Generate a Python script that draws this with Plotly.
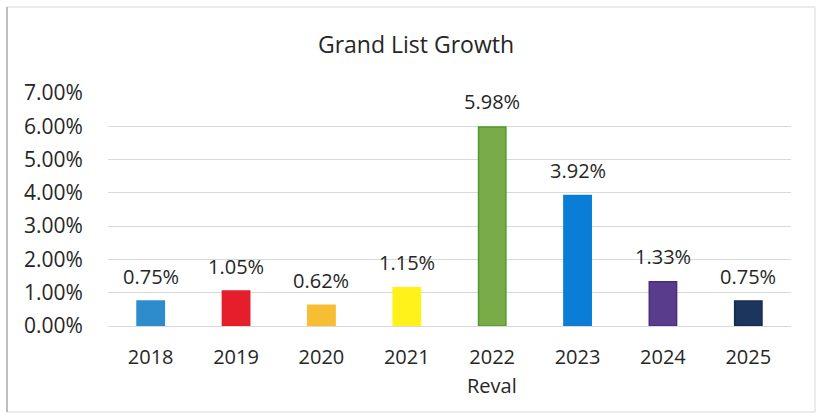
import plotly.graph_objects as go

years = ["2018", "2019", "2020", "2021", "2022", "2023", "2024", "2025"]
growth = [0.75, 1.05, 0.62, 1.15, 5.98, 3.92, 1.33, 0.75]
fill_colors = ["#2E8CCD", "#E61E2B", "#F7BE34", "#FFF21A", "#79AB48", "#0A7DD6", "#5A3C8C", "#1B355C"]
edge_colors = ["#2E8CCD", "#E61E2B", "#F7BE34", "#FFF21A", "#4E9A2A", "#0A7DD6", "#4A2C7C", "#142A4C"]
y_ticks = [0, 1, 2, 3, 4, 5, 6, 7]
reval_year = "2022"

FONT = "'Open Sans', sans-serif"
TEXT = "#262626"

# plot-area geometry in pixels (used to place the frame in paper units)
W, H = 817, 414
L, R, T, B = 108, 26, 93, 88
PW, PH = W - L - R, H - T - B


def px_x(px):
    return (px - L) / PW


def px_y(py):
    return (H - B - py) / PH


pos = list(range(len(years)))

fig = go.Figure(
    go.Bar(
        x=pos,
        y=growth,
        marker=dict(color=fill_colors, line=dict(color=edge_colors, width=1.5)),
        hoverinfo="skip",
    )
)

# value labels above each bar
for p, v in zip(pos, growth):
    fig.add_annotation(
        x=p, y=v, xref="x", yref="y",
        text=f"{v:.2f}%", showarrow=False,
        yanchor="middle", yshift=25,
        font=dict(family=FONT, size=20, color=TEXT),
    )

# revaluation note under its year
fig.add_annotation(
    x=years.index(reval_year), y=px_y(385), xref="x", yref="paper",
    text="Reval", showarrow=False, yanchor="middle",
    font=dict(family=FONT, size=20, color=TEXT),
)

# chart frame: darker left edge, faint remaining edges
frame = [
    (px_x(815), px_y(7), px_x(815), px_y(412), "#E4E4E4"),
    (px_x(7), px_y(7), px_x(815), px_y(7), "#E4E4E4"),
    (px_x(7), px_y(412), px_x(815), px_y(412), "#E4E4E4"),
    (px_x(7), px_y(7), px_x(7), px_y(412), "#A8A8A8"),
]
for x0, y0, x1, y1, c in frame:
    fig.add_shape(
        type="line", xref="paper", yref="paper",
        x0=x0, y0=y0, x1=x1, y1=y1,
        line=dict(color=c, width=1.5),
    )

fig.update_layout(
    width=W, height=H,
    margin=dict(l=L, r=R, t=T, b=B),
    paper_bgcolor="white", plot_bgcolor="white",
    showlegend=False,
    bargap=0.68,
    title=dict(
        text="Grand List Growth", x=416 / W, xref="container", xanchor="center",
        y=1 - 45 / H, yanchor="middle",
        font=dict(family=FONT, size=23, color=TEXT),
    ),
    xaxis=dict(
        range=[-0.5, len(years) - 0.5],
        tickvals=pos, ticktext=years,
        showgrid=False, showline=False, zeroline=False,
        ticks="outside", ticklen=13, tickcolor="rgba(0,0,0,0)",
        tickfont=dict(family=FONT, size=20, color=TEXT),
    ),
    yaxis=dict(
        range=[0, 7], tickvals=y_ticks,
        ticktext=[f"{t:.2f}%" for t in y_ticks],
        showgrid=True, gridcolor="#D9D9D9", gridwidth=1,
        zeroline=True, zerolinecolor="#D9D9D9", zerolinewidth=1,
        showline=False,
        ticks="outside", ticklen=20, tickcolor="rgba(0,0,0,0)",
        tickfont=dict(family=FONT, size=21, color=TEXT),
    ),
)

fig.write_html("out.html")
